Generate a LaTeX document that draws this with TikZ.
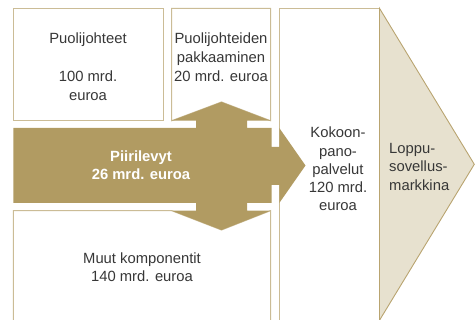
\documentclass[tikz,border=0pt]{standalone}
\usepackage{fontspec}
\setmainfont{Liberation Sans}
\definecolor{gold}{RGB}{177,155,98}
\definecolor{lightfill}{RGB}{231,225,207}
\definecolor{boxline}{RGB}{203,188,150}
\definecolor{chevline}{RGB}{185,164,112}
\definecolor{txtgrey}{RGB}{55,55,55}
\tikzset{
  boxshape/.style={draw=boxline, fill=white, line width=1pt},
  txt/.style={font=\fontsize{14.8}{18}\selectfont, text=txtgrey, inner sep=0pt, anchor=base},
  wtxt/.style={font=\fontsize{14.8}{18}\selectfont\bfseries, text=white, inner sep=0pt, anchor=base}
}
\begin{document}
\begin{tikzpicture}[x=1pt,y=-1pt]
\useasboundingbox (0,0) rectangle (475,320);
\clip (0,0) rectangle (475,320);
% boxes
\draw[boxshape] (13.3,8.3) rectangle (163,120.7);
\draw[boxshape] (171.7,8.3) -- (270.5,8.3) -- (270.5,120.7) -- (221.5,102) -- (171.7,120.7) -- cycle;
\draw[boxshape] (13.3,325) -- (13.3,210.7) -- (171.7,210.7) -- (221.5,230) -- (270.5,210.7) -- (270.5,325);
\draw[boxshape] (279.3,325) -- (279.3,8.3) -- (379.5,8.3) -- (379.5,325);
% chevron
\draw[fill=lightfill, draw=chevline, line width=0.9pt] (379.5,8.3) -- (474.3,164.3) -- (379.5,320.3) -- cycle;
% gold arrows
\fill[gold] (13.3,128) -- (196,128) -- (196,120.7) -- (171.7,120.7) -- (221.5,102) -- (270.5,120.7)
  -- (247,120.7) -- (247,128) -- (271.5,128) -- (271.5,147) -- (279.3,147) -- (279.3,128)
  -- (305.5,165.5) -- (279.3,203) -- (279.3,185) -- (271.5,185) -- (271.5,203) -- (247,203)
  -- (247,210.7) -- (270.5,210.7) -- (221.5,230) -- (171.7,210.7) -- (196,210.7) -- (196,203)
  -- (13.3,203) -- cycle;
% texts
\node[txt] (a1) at (88,44) {Puolijohteet};
\node[txt] (a2) at (88,81.7) {100 mrd.};
\node[txt] (a3) at (88,100.2) {euroa};
\node[txt] (b1) at (221,44) {Puolijohteiden};
\node[txt] (b2) at (221,62.7) {pakkaaminen};
\node[txt] (b3) at (221,81.4) {20 mrd. euroa};
\node[wtxt] (c1) at (141,161.3) {Piirilevyt};
\node[wtxt] (c2) at (141,180) {26 mrd. euroa};
\node[txt] (d1) at (142,263.2) {Muut komponentit};
\node[txt] (d2) at (142,281.6) {140 mrd. euroa};
\node[txt] (e1) at (338,138) {Kokoon-};
\node[txt] (e2) at (338,156.3) {pano-};
\node[txt] (e3) at (338,174.5) {palvelut};
\node[txt] (e4) at (338,192.8) {120 mrd.};
\node[txt] (e5) at (338,211) {euroa};
\node[txt, anchor=base west] (f1) at (389,153.5) {Loppu-};
\node[txt, anchor=base west] (f2) at (389,171.8) {sovellus-};
\node[txt, anchor=base west] (f3) at (389,190.1) {markkina};
\end{tikzpicture}
\end{document}
